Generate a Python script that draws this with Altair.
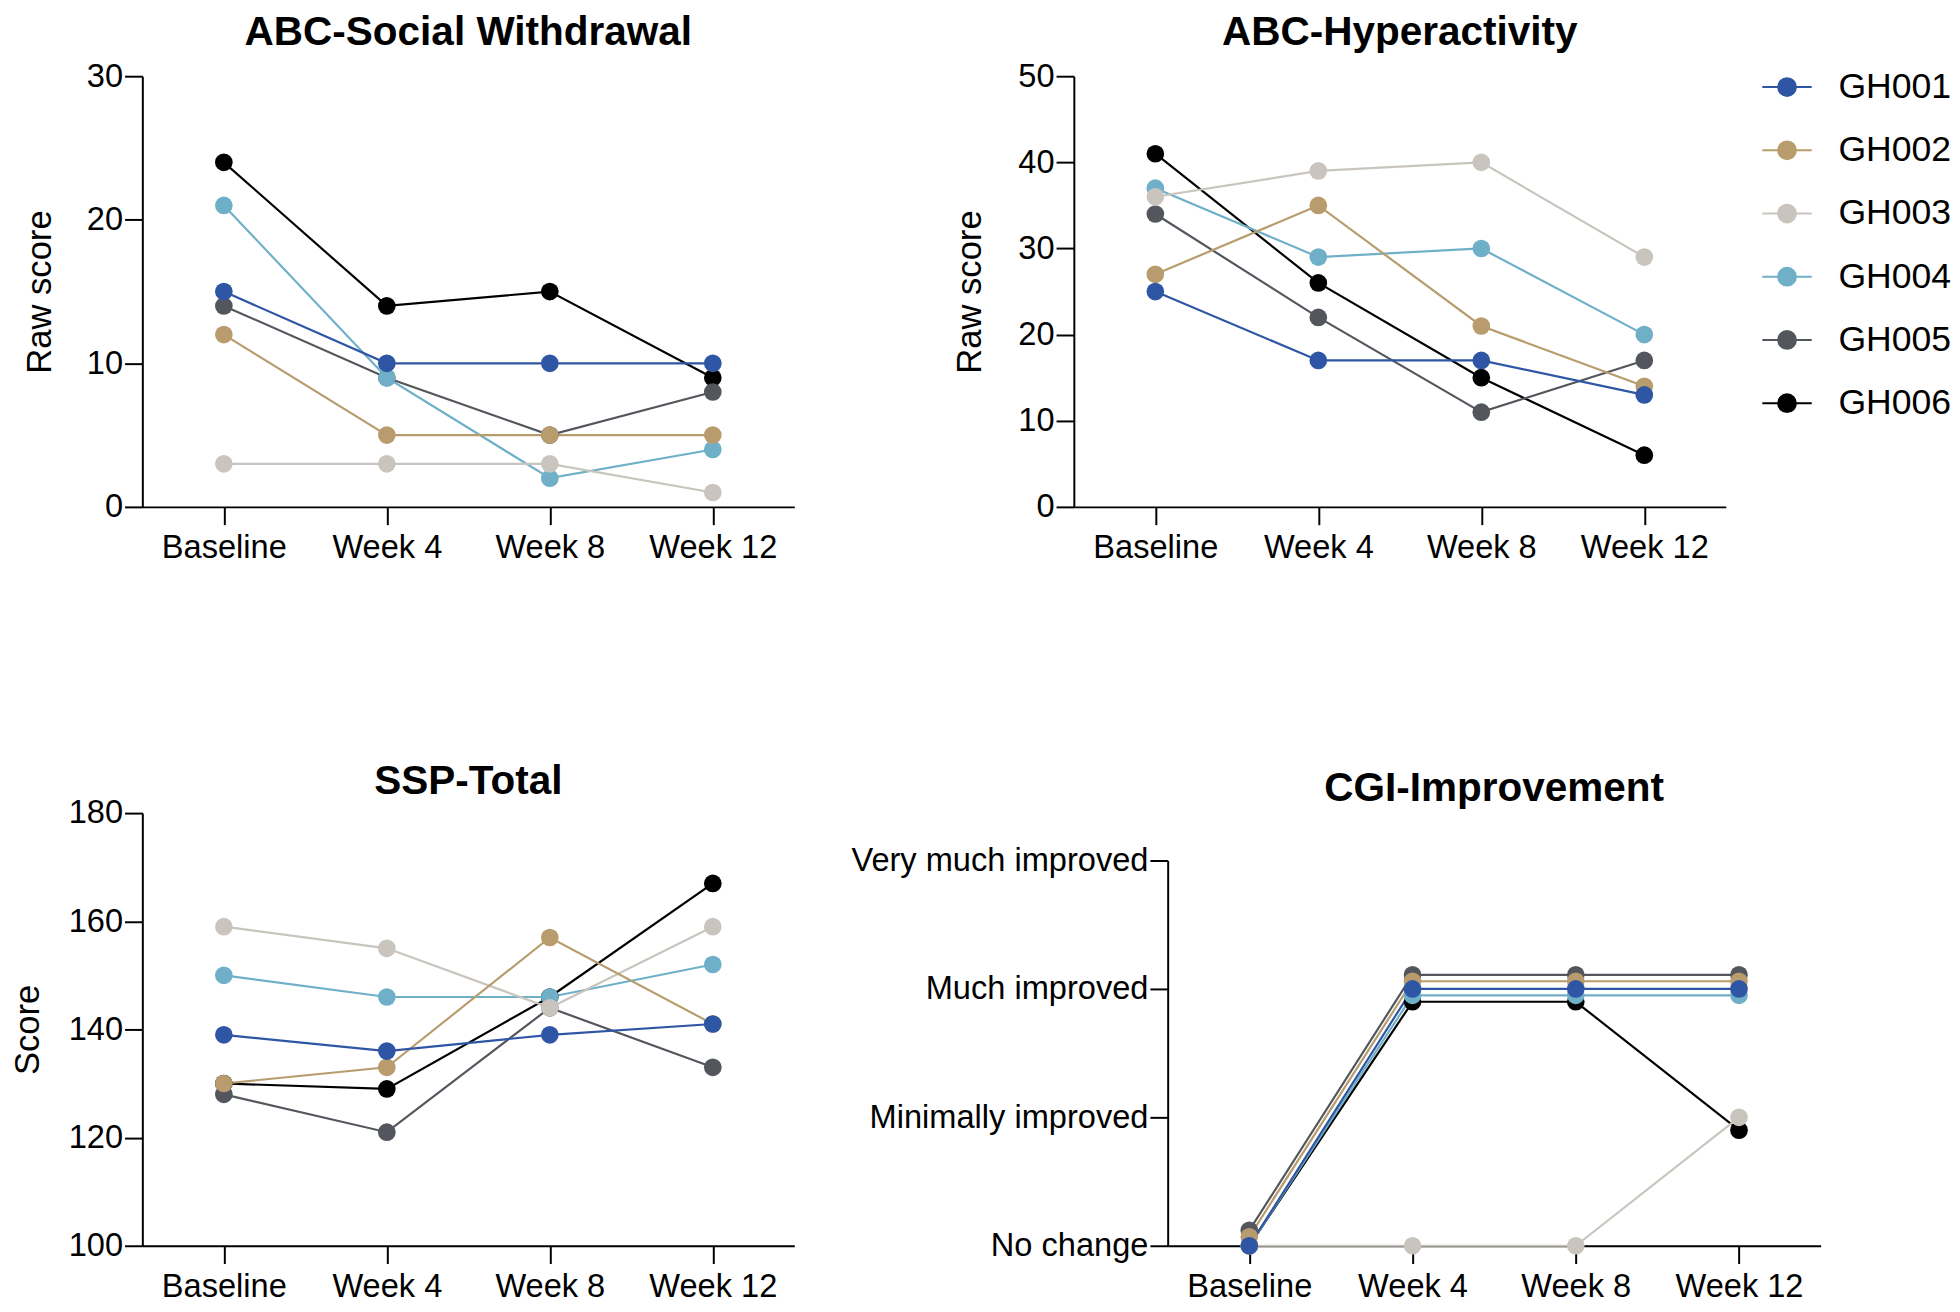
import altair as alt
import pandas as pd

timepoints = ["Baseline", "Week 4", "Week 8", "Week 12"]
subjects = ["GH001", "GH002", "GH003", "GH004", "GH005", "GH006"]
colors = ["#2E56A4", "#B89C6E", "#C9C5BE", "#6FB0C8", "#53565C", "#000000"]

social_withdrawal = {
    "GH001": [15, 10, 10, 10],
    "GH002": [12, 5, 5, 5],
    "GH003": [3, 3, 3, 1],
    "GH004": [21, 9, 2, 4],
    "GH005": [14, 9, 5, 8],
    "GH006": [24, 14, 15, 9],
}
hyperactivity = {
    "GH001": [25, 17, 17, 13],
    "GH002": [27, 35, 21, 14],
    "GH003": [36, 39, 40, 29],
    "GH004": [37, 29, 30, 20],
    "GH005": [34, 22, 11, 17],
    "GH006": [41, 26, 15, 6],
}
ssp_total = {
    "GH001": [139, 136, 139, 141],
    "GH002": [130, 133, 157, 141],
    "GH003": [159, 155, 144, 159],
    "GH004": [150, 146, 146, 152],
    "GH005": [128, 121, 144, 133],
    "GH006": [130, 129, 146, 167],
}
# CGI-I levels (0 = No change ... 3 = Very much improved), as plotted (with the small nudges seen)
cgi_improvement = {
    "GH001": [0.0, 2.0, 2.0, 2.0],
    "GH002": [0.07, 2.06, 2.06, 2.06],
    "GH003": [0.0, 0.0, 0.0, 1.0],
    "GH004": [0.0, 1.95, 1.95, 1.95],
    "GH005": [0.12, 2.11, 2.11, 2.11],
    "GH006": [0.0, 1.9, 1.9, 0.9],
}
cgi_labels = ["No change", "Minimally improved", "Much improved", "Very much improved"]

FONT = "Liberation Sans"
LABEL_SIZE = 33
TITLE_SIZE = 41


def to_long(d):
    rows = []
    for s in reversed(subjects):  # GH006 drawn first, GH001 on top
        for t, v in zip(timepoints, d[s]):
            rows.append({"time": t, "subject": s, "value": v})
    return pd.DataFrame(rows)


legend_symbol = "M-1,0H1M0.36,0A0.36,0.36,0,1,1,-0.36,0A0.36,0.36,0,1,1,0.36,0Z"
legend = alt.Legend(
    orient="none", legendX=1639, legendY=-15, title=None,
    symbolType=legend_symbol, symbolSize=2500, symbolStrokeWidth=2,
    symbolOpacity=1, labelFont=FONT, labelFontSize=36, labelColor="black",
    labelOffset=26, rowPadding=20, padding=0,
)
color = alt.Color("subject:N", scale=alt.Scale(domain=subjects, range=colors), legend=legend)


def panel(data, title, title_offset, ydomain, yticks, width, height,
          ytitle=None, ytitle_x=None, label_expr=None):
    df = to_long(data)
    x = alt.X("time:N", sort=timepoints,
              scale=alt.Scale(type="point", padding=0.5),
              axis=alt.Axis(title=None, labelAngle=0, labelPadding=7))
    axis_kw = dict(values=yticks, labelPadding=2)
    if label_expr:
        axis_kw["labelExpr"] = label_expr
    if ytitle:
        axis_kw.update(title=ytitle, titleX=ytitle_x, titleY=height / 2,
                       titleAngle=270, titleAlign="center", titleBaseline="middle")
    else:
        axis_kw["title"] = None
    y = alt.Y("value:Q", scale=alt.Scale(domain=ydomain, nice=False, zero=False),
              axis=alt.Axis(**axis_kw))
    base = alt.Chart(df).encode(x=x, y=y, color=color, detail="subject:N")
    lines = base.mark_line(strokeWidth=2.2)
    points = base.mark_circle(size=320, opacity=1)
    return alt.layer(lines, points).properties(
        width=width, height=height,
        title=alt.TitleParams(title, font=FONT, fontSize=TITLE_SIZE, fontWeight="bold",
                              color="black", anchor="middle", frame="group",
                              baseline="alphabetic", offset=title_offset),
    )


p1 = panel(social_withdrawal, "ABC-Social Withdrawal", -25, [0, 30], [0, 10, 20, 30],
           660, 436, "Raw score", -104)
p2 = panel(hyperactivity, "ABC-Hyperactivity", -25, [0, 50], [0, 10, 20, 30, 40, 50],
           660, 436, "Raw score", -105)
p3 = panel(ssp_total, "SSP-Total", -38, [100, 180], [100, 120, 140, 160, 180],
           660, 438, "Score", -116)
cgi_expr = "[" + ",".join("'" + l + "'" for l in cgi_labels) + "][round(datum.value)]"
p4 = panel(cgi_improvement, "CGI-Improvement", 3, [0, 3], [0, 1, 2, 3],
           661, 390, label_expr=cgi_expr)

spacer = alt.Chart(pd.DataFrame({"s": [0]})).mark_point(opacity=0).properties(width=661, height=48)

row1 = alt.hconcat(p1, p2, spacing=283, bounds="flush")
row2 = alt.hconcat(p3, alt.vconcat(spacer, p4, spacing=0, bounds="flush"),
                   spacing=378, bounds="flush")

chart = alt.vconcat(row1, row2, spacing=200, bounds="full").configure(
    background="white", padding={"left": 3, "top": -4, "right": 0, "bottom": 0}
).configure_view(stroke=None).configure_axis(
    domainColor="black", domainWidth=2, tickColor="black", tickWidth=2, tickSize=18,
    labelFont=FONT, labelFontSize=LABEL_SIZE, labelColor="black", grid=False,
    labelLimit=600,
    titleFont=FONT, titleFontSize=35, titleFontWeight="normal", titleColor="black",
)

chart.save("out.html", embed_options={"renderer": "svg", "actions": False})
